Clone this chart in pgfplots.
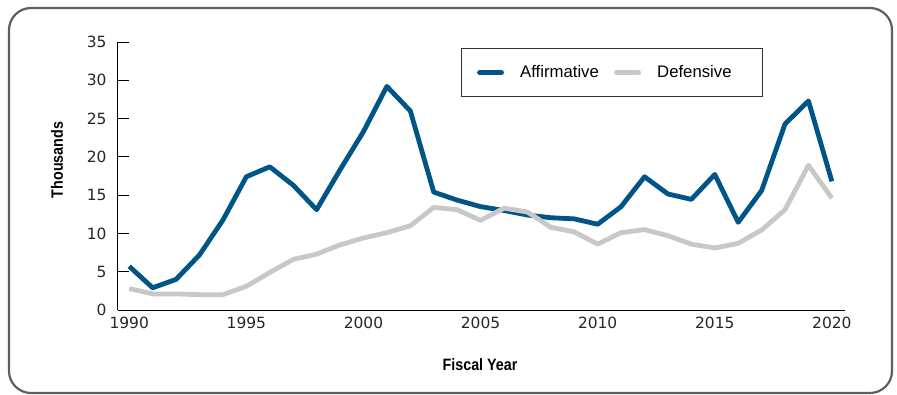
\documentclass[border=0pt]{standalone}
\usepackage{pgfplots}
\pgfplotsset{compat=1.18}
\usepackage{fontspec}
\setmainfont{Liberation Sans}
\newfontfamily\condfont[FakeStretch=0.87]{Liberation Sans}
\newfontfamily\tickfont{DejaVu Sans}
\definecolor{affblue}{RGB}{0,84,134}
\definecolor{defgray}{RGB}{200,200,200}
\definecolor{framegray}{RGB}{95,95,95}
\begin{document}
\begin{tikzpicture}[x=1bp,y=1bp]
\useasboundingbox (-118bp,-85bp) rectangle (779bp,310bp);
\draw[framegray, line width=2.2bp, rounded corners=22bp] (-109bp,-83bp) rectangle (774bp,302bp);
\begin{axis}[
  at={(0,0)}, anchor=south west,
  scale only axis, width=727bp, height=268bp,
  xmin=1989.52, xmax=2020.56, ymin=0, ymax=35,
  axis x line*=bottom, axis y line*=left,
  axis line style={black, line width=1bp},
  xtick={1990,1995,...,2020}, ytick={0,5,...,35},
  x tick style={draw=none},
  y tick style={black, line width=0.8bp},
  tick align=inside, major tick length=11bp,
  /pgf/number format/1000 sep={},
  /pgf/number format/assume math mode=true,
  tick label style={font=\tickfont\fontsize{15.5}{17}\selectfont, text=black!85},
  xticklabel style={yshift=-4bp},
  yticklabel style={xshift=-8bp},
  ylabel={Thousands},
  xlabel={Fiscal Year},
  every axis y label/.style={at={(-61bp,150bp)}, rotate=90, anchor=center, font=\condfont\bfseries\fontsize{16.5}{18}\selectfont},
  every axis x label/.style={at={(362bp,-55bp)}, anchor=center, font=\condfont\bfseries\fontsize{16.5}{18}\selectfont},
  legend columns=2,
  legend style={at={(rel axis cs:0.472,0.976)}, anchor=north west, draw=black!80, line width=0.8bp,
    font=\fontsize{16.8}{19}\selectfont, inner xsep=3.3bp, inner ysep=17bp,
    nodes={inner sep=0pt}},
  legend image code/.code={\path[draw=none] (0bp,0bp) -- (55.3bp,0bp); \draw[#1, line cap=round] (14.7bp,0bp) -- (36.7bp,0bp);},
]
\addplot[affblue, line width=4.8bp, line join=round] coordinates {
(1990,5.7)(1991,2.9)(1992,4.0)(1993,7.2)(1994,11.75)(1995,17.4)(1996,18.7)(1997,16.3)(1998,13.1)(1999,18.3)
(2000,23.3)(2001,29.2)(2002,26.0)(2003,15.4)(2004,14.35)(2005,13.5)(2006,13.0)(2007,12.4)(2008,12.05)(2009,11.9)
(2010,11.2)(2011,13.5)(2012,17.4)(2013,15.15)(2014,14.45)(2015,17.7)(2016,11.45)(2017,15.6)(2018,24.3)(2019,27.3)(2020,16.8)};
\addlegendentry{Affirmative\hspace*{3bp}}
\addplot[defgray, line width=4.8bp, line join=round] coordinates {
(1990,2.8)(1991,2.1)(1992,2.1)(1993,2.0)(1994,2.0)(1995,3.1)(1996,4.9)(1997,6.6)(1998,7.3)(1999,8.5)
(2000,9.4)(2001,10.1)(2002,11.0)(2003,13.4)(2004,13.1)(2005,11.7)(2006,13.3)(2007,12.8)(2008,10.8)(2009,10.2)
(2010,8.6)(2011,10.1)(2012,10.5)(2013,9.7)(2014,8.6)(2015,8.1)(2016,8.7)(2017,10.45)(2018,13.1)(2019,18.9)(2020,14.6)};
\addlegendentry{Defensive\rule{27.7bp}{0pt}}
\end{axis}
\end{tikzpicture}
\end{document}
